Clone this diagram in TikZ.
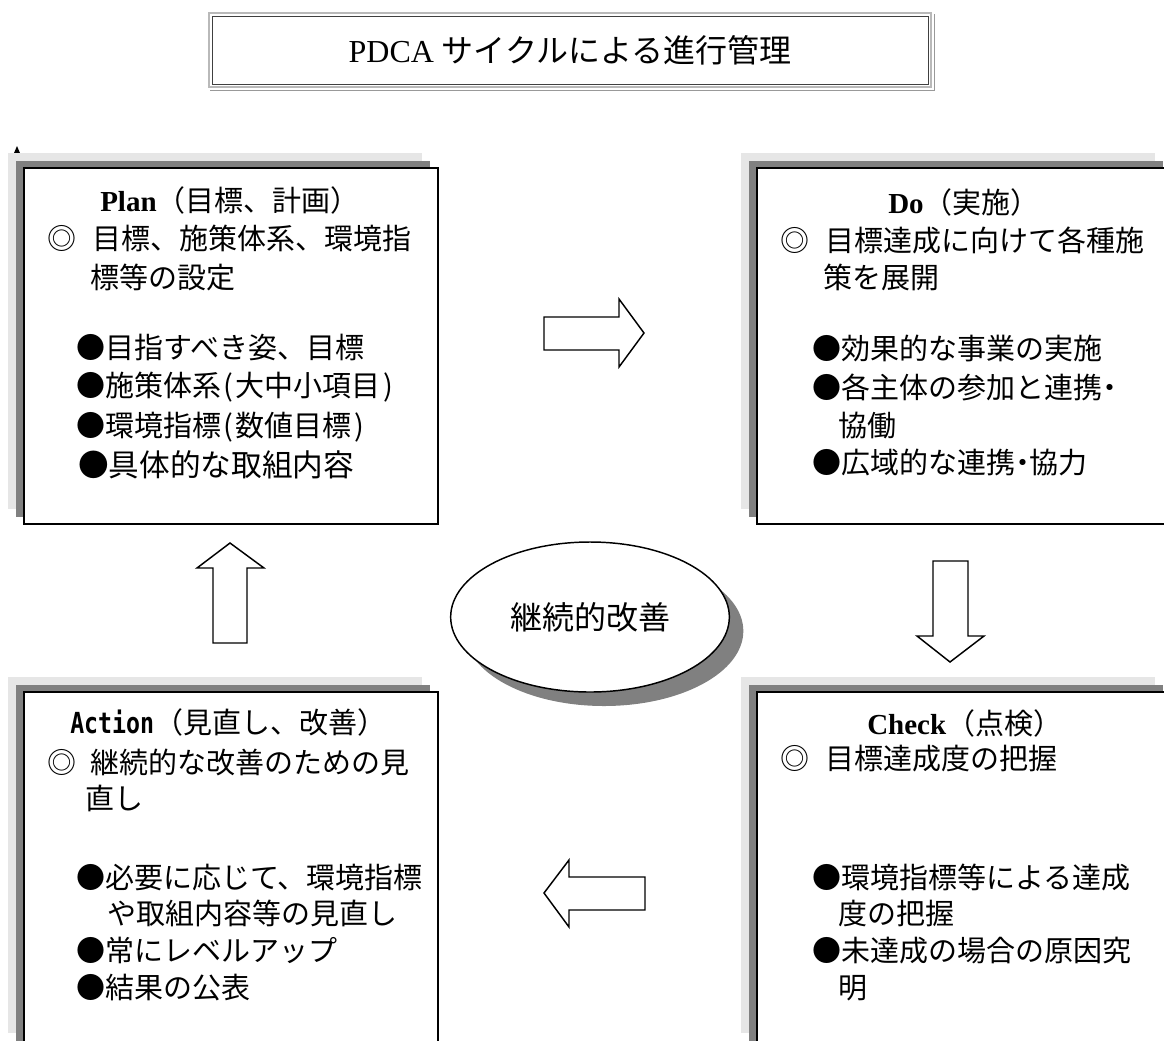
\documentclass[tikz,border=0pt]{standalone}
\usepackage{fontspec}
\setmainfont{Liberation Serif}
\newfontfamily\jp{Noto Sans CJK JP}
\newfontfamily\monoA[FakeStretch=0.8]{DejaVu Sans Mono}
\usetikzlibrary{shapes.geometric}
\definecolor{bandlight}{HTML}{E6E6E6}
\definecolor{banddark}{HTML}{808080}
\newcommand\hp[1]{\makebox[0.5em][c]{#1}}
\tikzset{
  boxst/.style={draw=black, fill=white, line width=1.2pt, inner sep=0pt, outer sep=0pt, anchor=north west,
    minimum width=310.5pt, minimum height=267pt},
  ln/.style={anchor=base west, inner sep=0pt, font=\jp\fontsize{21.75pt}{26pt}\selectfont},
  lnbig/.style={ln, font=\jp\fontsize{23pt}{27pt}\selectfont},
  blk/.style={draw=black, fill=white, line width=1.1pt, line join=miter},
}
\newcommand\shbox[3]{% name, x, y
  \fill[bandlight] (#2-16,#3-15) rectangle ++(414,356);
  \fill[banddark] (#2-8,#3-7) rectangle ++(414,356);
  \node[boxst] (#1) at (#2,#3) {};
}
\begin{document}
\begin{tikzpicture}[x=0.75pt,y=-0.75pt]
\useasboundingbox (0,0) rectangle (1164,1040);
\clip (0,0) rectangle (1164,1040);
\fill[white] (0,0) rectangle (1164,1040);

% title
\node[draw=black!75, line width=0.6pt, fill=white, minimum width=537pt, minimum height=51pt, inner sep=0pt]
  (title) at (570,50) {\fontsize{24pt}{28pt}\selectfont PDCA {\jp サイクルによる進行管理}};
\draw[gray!55, line width=1.6pt] ([shift={(-2pt,2pt)}]title.north west) rectangle ([shift={(2pt,-2pt)}]title.south east);
\draw[gray!80, line width=1.2pt] ([shift={(-1pt,-4.5pt)}]title.south west) -- ([shift={(4.5pt,-4.5pt)}]title.south east) -- ([shift={(4.5pt,1pt)}]title.north east);

% small marker
\fill[black] (14,153) -- (17,146) -- (20,153) -- cycle;

% boxes
\shbox{plan}{24}{168}
\shbox{do}{757}{168}
\shbox{action}{24}{692}
\shbox{check}{757}{692}

% ellipse
\node[ellipse, fill=banddark, minimum width=209pt, minimum height=112.5pt, inner sep=0pt] (ellsh) at (604,631) {};
\node[ellipse, draw=black, line width=1.1pt, fill=white, minimum width=209pt, minimum height=112.5pt, inner sep=0pt,
  font=\jp\fontsize{24pt}{28pt}\selectfont] (ell) at (590,617) {\raisebox{-3.5pt}{継続的改善}};

% block arrows
\draw[blk] (544,317) -- (619,317) -- (619,299) -- (644,333) -- (619,367) -- (619,350) -- (544,350) -- cycle;
\draw[blk] (933,561) -- (968,561) -- (968,636) -- (984,636) -- (950,662) -- (917,636) -- (933,636) -- cycle;
\draw[blk] (645,877) -- (569,877) -- (569,860) -- (544,893) -- (569,927) -- (569,910) -- (645,910) -- cycle;
\draw[blk] (213,643) -- (213,568) -- (197,568) -- (230,543) -- (264,568) -- (247,568) -- (247,643) -- cycle;

% Plan text
\node[ln] (p0) at (100,211) {{\normalfont\bfseries Plan}（目標、計画）};
\node[ln] (p1a) at (47,249) {◎};
\node[ln] (p1) at (92,249) {目標、施策体系、環境指};
\node[ln] (p2) at (90,288) {標等の設定};
\node[ln] (p3) at (76,358) {●目指すべき姿、目標};
\node[ln] (p4) at (76,396) {●施策体系\hp{(}大中小項目\hp{)}};
\node[ln] (p5) at (76,436) {●環境指標\hp{(}数値目標\hp{)}};
\node[lnbig] (p6) at (78,476) {●具体的な取組内容};

% Do text
\node[ln] (d0) at (888,213) {{\normalfont\bfseries Do}（実施）};
\node[ln] (d1a) at (780,251) {◎};
\node[ln] (d1) at (825,251) {目標達成に向けて各種施};
\node[ln] (d2) at (823,288) {策を展開};
\node[ln] (d3) at (812,359) {●効果的な事業の実施};
\node[ln] (d4) at (812,398) {●各主体の参加と連携\hp{・}};
\node[ln] (d5) at (838,436) {協働};
\node[ln] (d6) at (812,473) {●広域的な連携\hp{・}協力};

% Check text
\node[ln] (c0) at (867,734) {{\normalfont\bfseries Check}（点検）};
\node[ln] (c1a) at (780,769) {◎};
\node[ln] (c1) at (825,769) {目標達成度の把握};
\node[ln] (c2) at (812,888) {●環境指標等による達成};
\node[ln] (c3) at (838,924) {度の把握};
\node[ln] (c4) at (812,961) {●未達成の場合の原因究};
\node[ln] (c5) at (838,998) {明};

% Action text
\node[ln] (a0) at (70,733) {{\monoA\bfseries Action}（見直し、改善）};
\node[ln] (a1a) at (47,773) {◎};
\node[ln] (a1) at (90,773) {継続的な改善のための見};
\node[ln] (a2) at (85,809) {直し};
\node[ln] (a3) at (76,888) {●必要に応じて、環境指標};
\node[ln] (a4) at (107,924) {や取組内容等の見直し};
\node[ln] (a5) at (76,961) {●常にレベルアップ};
\node[ln] (a6) at (76,998) {●結果の公表};
\end{tikzpicture}
\end{document}
